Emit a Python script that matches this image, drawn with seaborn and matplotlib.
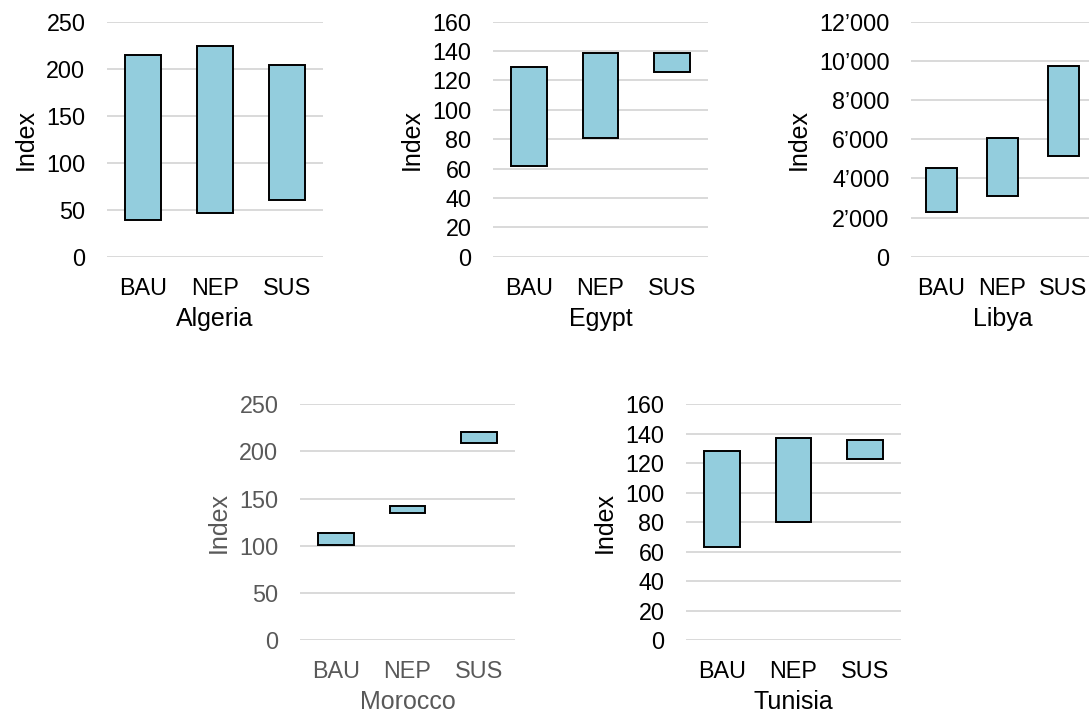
import matplotlib
matplotlib.use("Agg")
import matplotlib.pyplot as plt
from matplotlib.ticker import FuncFormatter, MultipleLocator
import pandas as pd
import seaborn as sns

scenarios = ["BAU", "NEP", "SUS"]

algeria_low = [39, 46, 60]
algeria_high = [215, 224, 204]
egypt_low = [62, 81, 126]
egypt_high = [129, 139, 139]
libya_low = [2300, 3100, 5120]
libya_high = [4530, 6060, 9750]
morocco_low = [101, 135, 209]
morocco_high = [113, 142.5, 221]
tunisia_low = [63, 80, 123]
tunisia_high = [128, 137, 136]

sns.set_theme(style="white")
plt.rcParams["font.family"] = ["Liberation Sans", "DejaVu Sans"]

W, H = 1089, 719
fig = plt.figure(figsize=(W / 100, H / 100), dpi=100)

BAR = "#93CDDD"
GRID = "#D9D9D9"
TICK_SIZE = 16.8
TITLE_SIZE = 18


def panel(rect_px, name, lows, highs, ymax, step, text_color, thousands=False):
    x0, y0, x1, y1 = rect_px
    ax = fig.add_axes([x0 / W, 1 - y1 / H, (x1 - x0) / W, (y1 - y0) / H])
    df = pd.DataFrame({
        "scenario": scenarios,
        "span": [h - l for l, h in zip(lows, highs)],
    })
    sns.barplot(data=df, x="scenario", y="span", order=scenarios, bottom=lows,
                color=BAR, saturation=1, width=0.5, edgecolor="black",
                linewidth=1.4, ax=ax, zorder=3)
    ax.set_xlim(-0.5, 2.5)
    ax.set_ylim(0, ymax)
    ax.yaxis.set_major_locator(MultipleLocator(step))
    if thousands:
        ax.yaxis.set_major_formatter(
            FuncFormatter(lambda v, p: f"{int(v):,}".replace(",", "\u2019")))
    ax.grid(axis="y", color=GRID, linewidth=1.4, zorder=0)
    ax.set_axisbelow(True)
    for s in ax.spines.values():
        s.set_visible(False)
    ax.tick_params(axis="both", length=0, labelsize=TICK_SIZE, labelcolor=text_color)
    ax.tick_params(axis="x", pad=14.3)
    ax.tick_params(axis="y", pad=15.5)
    ax.set_xlabel(name, fontsize=TITLE_SIZE, color=text_color, labelpad=5)
    ax.set_ylabel("Index", fontsize=TITLE_SIZE, color=text_color, labelpad=6)
    return ax


panel((107, 21.7, 323, 256.7), "Algeria", algeria_low, algeria_high, 250, 50, "black")
panel((493, 21.7, 708, 256.7), "Egypt", egypt_low, egypt_high, 160, 20, "black")
panel((911, 21.7, 1094, 256.7), "Libya", libya_low, libya_high, 12000, 2000, "black",
      thousands=True)
panel((300, 404.3, 515, 640), "Morocco", morocco_low, morocco_high, 250, 50, "#595959")
panel((686, 404.3, 901, 640), "Tunisia", tunisia_low, tunisia_high, 160, 20, "black")

fig.savefig("out.png", dpi=100)
